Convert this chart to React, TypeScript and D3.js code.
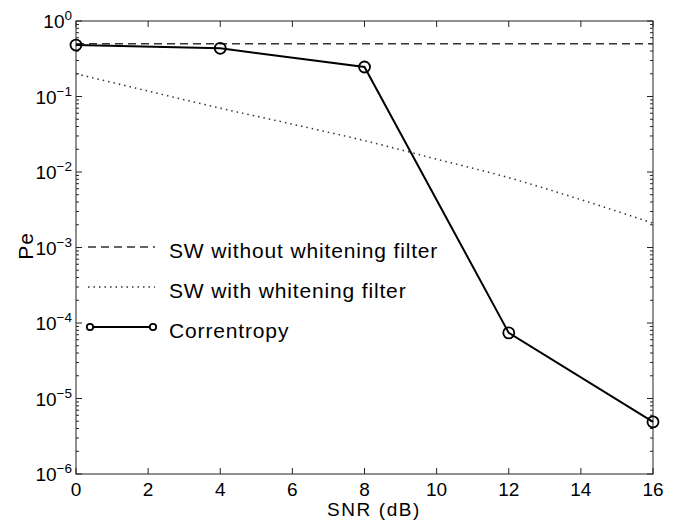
import { useEffect, useRef } from "react";
import * as d3 from "d3";

// SNR values (dB)
const snrMarks = [0, 4, 8, 12, 16];
const correntropy = [0.48, 0.435, 0.246, 7.4e-5, 4.9e-6];

const swNoWhitenSnr = [0, 16];
const swNoWhiten = [0.5, 0.5];

const swWhitenSnr = [0, 2, 4, 6, 8, 10, 12, 14, 16];
const swWhiten = [0.2, 0.118, 0.07, 0.043, 0.026, 0.0148, 0.0084, 0.0043, 0.0021];

const xTicks = [0, 2, 4, 6, 8, 10, 12, 14, 16];
const yExponents = [0, -1, -2, -3, -4, -5, -6];

const legendLabels = [
  "SW without whitening filter",
  "SW with whitening filter",
  "Correntropy",
];

function renderChart(element: SVGSVGElement) {
  const margin = { top: 21, right: 27, bottom: 57, left: 76 };
  const W = 680;
  const H = 531;
  const width = W - margin.left - margin.right;
  const height = H - margin.top - margin.bottom;
  const font = "Liberation Sans, Arial, sans-serif";

  const root = d3.select(element);
  root.selectAll("*").remove();
  const svg = root.append("g").attr("transform", `translate(${margin.left},${margin.top})`);

  const x = d3.scaleLinear().domain([0, 16]).range([0, width]);
  const y = d3.scaleLog().domain([1e-6, 1]).range([height, 0]);

  const axisColor = "#222";

  // minor + major ticks, inside the box (left & right)
  const minor: number[] = [];
  for (let e = -6; e < 0; e++) {
    for (let m = 2; m <= 9; m++) minor.push(m * Math.pow(10, e));
  }
  const tickG = svg.append("g").attr("stroke", axisColor).attr("stroke-width", 1);
  minor.forEach((v) => {
    tickG.append("line").attr("x1", 0).attr("x2", 3).attr("y1", y(v)).attr("y2", y(v));
    tickG.append("line").attr("x1", width).attr("x2", width - 3).attr("y1", y(v)).attr("y2", y(v));
  });
  yExponents.forEach((e) => {
    const v = Math.pow(10, e);
    tickG.append("line").attr("x1", 0).attr("x2", 6).attr("y1", y(v)).attr("y2", y(v));
    tickG.append("line").attr("x1", width).attr("x2", width - 6).attr("y1", y(v)).attr("y2", y(v));
  });
  xTicks.forEach((t) => {
    tickG.append("line").attr("x1", x(t)).attr("x2", x(t)).attr("y1", height).attr("y2", height - 6);
    tickG.append("line").attr("x1", x(t)).attr("x2", x(t)).attr("y1", 0).attr("y2", 6);
  });

  // box
  svg
    .append("rect")
    .attr("width", width)
    .attr("height", height)
    .attr("fill", "none")
    .attr("stroke", axisColor)
    .attr("stroke-width", 1);

  // x tick labels
  svg
    .append("g")
    .selectAll("text")
    .data(xTicks)
    .join("text")
    .attr("x", (d) => x(d))
    .attr("y", height + 22)
    .attr("text-anchor", "middle")
    .attr("font-family", font)
    .attr("font-size", 19)
    .text((d) => d);

  // y tick labels 10^e
  const yl = svg
    .append("g")
    .selectAll("text")
    .data(yExponents)
    .join("text")
    .attr("x", -4)
    .attr("y", (d) => y(Math.pow(10, d)) + 7)
    .attr("text-anchor", "end")
    .attr("font-family", font)
    .attr("font-size", 19);
  yl.append("tspan").text("10");
  yl.append("tspan")
    .attr("font-size", 13.5)
    .attr("dy", -8)
    .text((d) => (d < 0 ? "\u2212" + Math.abs(d) : String(d)));

  // axis titles
  svg
    .append("text")
    .attr("x", 298)
    .attr("y", height + 42)
    .attr("text-anchor", "middle")
    .attr("font-family", font)
    .attr("font-size", 19)
    .attr("letter-spacing", 1.6)
    .text("SNR (dB)");
  svg
    .append("text")
    .attr("transform", `translate(${-43},${225}) rotate(-90)`)
    .attr("text-anchor", "middle")
    .attr("font-family", font)
    .attr("font-size", 21)
    .attr("letter-spacing", 0.8)
    .text("Pe");

  const line = d3
    .line<[number, number]>()
    .x((d) => x(d[0]))
    .y((d) => y(d[1]));

  // dashed
  svg
    .append("path")
    .datum(swNoWhitenSnr.map((s, i) => [s, swNoWhiten[i]] as [number, number]))
    .attr("d", line)
    .attr("fill", "none")
    .attr("stroke", "#333")
    .attr("stroke-width", 1.5)
    .attr("stroke-dasharray", "8,5");

  // dotted
  svg
    .append("path")
    .datum(swWhitenSnr.map((s, i) => [s, swWhiten[i]] as [number, number]))
    .attr("d", d3.line<[number, number]>().x((d) => x(d[0])).y((d) => y(d[1])).curve(d3.curveMonotoneX))
    .attr("fill", "none")
    .attr("stroke", "#333")
    .attr("stroke-width", 1.5)
    .attr("stroke-dasharray", "1.5,4");

  // correntropy
  const cData = snrMarks.map((s, i) => [s, correntropy[i]] as [number, number]);
  svg
    .append("path")
    .datum(cData)
    .attr("d", line)
    .attr("fill", "none")
    .attr("stroke", "#000")
    .attr("stroke-width", 2);
  svg
    .append("g")
    .selectAll("circle")
    .data(cData)
    .join("circle")
    .attr("cx", (d) => x(d[0]))
    .attr("cy", (d) => y(d[1]))
    .attr("r", 5.5)
    .attr("fill", "none")
    .attr("stroke", "#000")
    .attr("stroke-width", 1.8);

  // legend
  const lg = svg.append("g").attr("transform", `translate(${12},${226})`);
  const rows = [0, 40, 80];
  lg.append("line")
    .attr("x1", 0).attr("x2", 67).attr("y1", rows[0]).attr("y2", rows[0])
    .attr("stroke", "#333").attr("stroke-width", 1.5).attr("stroke-dasharray", "8,5");
  lg.append("line")
    .attr("x1", 0).attr("x2", 67).attr("y1", rows[1]).attr("y2", rows[1])
    .attr("stroke", "#333").attr("stroke-width", 1.5).attr("stroke-dasharray", "1.5,4");
  lg.append("line")
    .attr("x1", 2).attr("x2", 65).attr("y1", rows[2]).attr("y2", rows[2])
    .attr("stroke", "#000").attr("stroke-width", 2);
  [2, 65].forEach((cx) => {
    lg.append("circle")
      .attr("cx", cx).attr("cy", rows[2]).attr("r", 3.2)
      .attr("fill", "white").attr("stroke", "#000").attr("stroke-width", 1.8);
  });
  lg.selectAll("text.lbl")
    .data(legendLabels)
    .join("text")
    .attr("class", "lbl")
    .attr("x", 81)
    .attr("y", (_d, i) => rows[i] + 11)
    .attr("font-family", font)
    .attr("font-size", 21)
    .attr("letter-spacing", 0.85)
    .text((d) => d);
}

export default function App() {
  const ref = useRef<SVGSVGElement>(null);
  useEffect(() => {
    if (ref.current) renderChart(ref.current);
  }, []);
  return (
    <svg
      ref={ref}
      width={680}
      height={531}
      style={{ position: "absolute", left: 0, top: 0, background: "white" }}
    />
  );
}
